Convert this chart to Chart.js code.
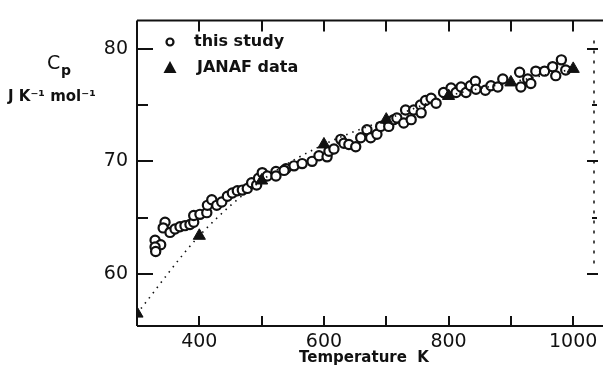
<!DOCTYPE html>
<html>
<head>
<meta charset="utf-8">
<script src="https://cdn.jsdelivr.net/npm/chart.js@4.4.0/dist/chart.umd.min.js"></script>
<style>
  html, body { margin: 0; padding: 0; background: #fff; }
  #wrap { width: 608px; height: 371px; }
</style>
</head>
<body>
<div id="wrap"><canvas id="myChart"></canvas></div>
<script>
// data
var studyT = [329, 338, 329, 330, 345, 342, 353, 361, 369, 377, 385, 391, 391, 401, 412, 413,
  420, 428, 436, 445, 453, 461, 469, 477, 484, 492, 495, 501, 509, 523, 523, 539,
  536, 552, 565, 581, 592, 605, 608, 616, 627, 632, 640, 651, 659, 669, 675, 685,
  691, 704, 712, 717, 728, 731, 740, 744, 755, 756, 763, 772, 780, 795,
  792, 804, 812, 820, 828, 835, 843, 844, 859, 868, 879, 887, 914, 916, 927, 932,
  940, 954, 967, 972, 981, 988];
var studyCp = [63.0, 62.6, 62.4, 62.0, 64.6, 64.1, 63.7, 64.0, 64.2, 64.3, 64.4, 64.6, 65.2, 65.3, 65.45, 66.1,
  66.6, 66.1, 66.4, 66.9, 67.2, 67.4, 67.45, 67.6, 68.1, 67.9, 68.5, 69.0, 68.7, 69.1, 68.7, 69.35,
  69.2, 69.6, 69.8, 70.0, 70.5, 70.4, 70.9, 71.1, 71.95, 71.6, 71.5, 71.3, 72.1, 72.8, 72.1, 72.4,
  73.1, 73.1, 73.7, 73.85, 73.4, 74.55, 73.7, 74.55, 75.0, 74.3, 75.4, 75.6, 75.15, 76.0,
  76.1, 76.5, 76.1, 76.6, 76.1, 76.7, 77.1, 76.4, 76.3, 76.7, 76.6, 77.3, 77.9, 76.6, 77.3, 76.9,
  78.0, 78.0, 78.4, 77.6, 79.0, 78.1];
var janafT = [300, 400, 500, 600, 700, 800, 900, 1000];
var janafCp = [56.5, 63.4, 68.3, 71.5, 73.7, 75.8, 77.0, 78.2];
var xTickLabels = [400, 600, 800, 1000];
var xTickMarks = [400, 500, 600, 700, 800, 900, 1000];
var yTickLabels = [60, 70, 80];
var yMinorMarks = [65, 75];
var seriesNames = ['this study', 'JANAF data'];

var ink = '#111';

function toPoints(xs, ys) {
  var pts = [];
  for (var i = 0; i < xs.length; i++) pts.push({x: xs[i], y: ys[i]});
  return pts;
}

function fixedTicks(values) {
  return function (scale) {
    scale.ticks = values.map(function (v) { return {value: v}; });
  };
}

// frame, inward ticks, legend and titles
var framePlugin = {
  id: 'frame',
  afterDraw: function (chart) {
    var ctx = chart.ctx;
    var a = chart.chartArea;
    var xs = chart.scales.x, ys = chart.scales.y;
    var i, px, py;
    ctx.save();
    ctx.strokeStyle = ink;
    ctx.lineWidth = 2;
    ctx.beginPath();
    ctx.moveTo(a.left, a.top); ctx.lineTo(a.right + 3, a.top);
    ctx.moveTo(a.left, a.top); ctx.lineTo(a.left, a.bottom);
    ctx.moveTo(a.left, a.bottom); ctx.lineTo(a.right + 3, a.bottom);
    for (i = 0; i < xTickMarks.length; i++) {
      px = Math.round(xs.getPixelForValue(xTickMarks[i]));
      ctx.moveTo(px, a.top); ctx.lineTo(px, a.top + 11);
      ctx.moveTo(px, a.bottom); ctx.lineTo(px, a.bottom - 10);
    }
    for (i = 0; i < yTickLabels.length; i++) {
      py = Math.round(ys.getPixelForValue(yTickLabels[i]));
      ctx.moveTo(a.left, py); ctx.lineTo(a.left + 16, py);
      ctx.moveTo(a.right - 13, py); ctx.lineTo(a.right - 2, py);
    }
    for (i = 0; i < yMinorMarks.length; i++) {
      py = Math.round(ys.getPixelForValue(yMinorMarks[i]));
      ctx.moveTo(a.left, py); ctx.lineTo(a.left + 11, py);
      ctx.moveTo(a.right - 8, py); ctx.lineTo(a.right - 3, py);
    }
    ctx.stroke();
    // broken right border
    ctx.lineWidth = 1.5;
    ctx.setLineDash([3, 7]);
    ctx.beginPath();
    ctx.moveTo(a.right - 6, a.top + 20); ctx.lineTo(a.right - 6, a.bottom - 60);
    ctx.stroke();
    ctx.setLineDash([]);

    // legend
    var lx = a.left + 33;
    ctx.fillStyle = '#fff';
    ctx.lineWidth = 2.2;
    ctx.beginPath();
    ctx.arc(lx, 42, 3.5, 0, Math.PI * 2);
    ctx.fill(); ctx.stroke();
    ctx.fillStyle = ink;
    ctx.beginPath();
    ctx.moveTo(lx, 61); ctx.lineTo(lx + 6.5, 73); ctx.lineTo(lx - 6.5, 73); ctx.closePath();
    ctx.fill();
    ctx.font = 'bold 16px "DejaVu Sans"';
    ctx.textBaseline = 'middle';
    ctx.textAlign = 'left';
    ctx.fillText(seriesNames[0], lx + 24, 42);
    ctx.fillText(seriesNames[1], lx + 27, 68);

    // y title
    ctx.font = '19px "DejaVu Sans"';
    ctx.fillText('C', 47, 64);
    ctx.font = 'bold 14px "DejaVu Sans"';
    ctx.fillText('p', 61, 71);
    ctx.font = 'bold 15px "DejaVu Sans"';
    ctx.fillText('J K\u207B\u00B9 mol\u207B\u00B9', 8, 97);

    // x title
    ctx.textAlign = 'center';
    ctx.font = 'bold 15px "DejaVu Sans"';
    ctx.fillText('Temperature  K', 364, 358);
    ctx.restore();
  }
};

var ctx = document.getElementById('myChart').getContext('2d');
var myChart = new Chart(ctx, {
  type: 'scatter',
  data: {
    datasets: [{
      type: 'line',
      label: seriesNames[1],
      data: toPoints(janafT, janafCp),
      showLine: true,
      borderColor: ink,
      borderWidth: 1.6,
      borderDash: [1.5, 5],
      cubicInterpolationMode: 'monotone',
      pointStyle: 'triangle',
      pointRadius: 7,
      pointBackgroundColor: ink,
      pointBorderColor: ink,
      pointBorderWidth: 1
    }, {
      label: seriesNames[0],
      data: toPoints(studyT, studyCp),
      pointRadius: 4.6,
      pointBorderWidth: 2.2,
      pointBackgroundColor: '#fff',
      pointBorderColor: ink
    }]
  },
  options: {
    responsive: true,
    maintainAspectRatio: false,
    animation: false,
    layout: {
      padding: { left: 0, right: 5, top: 13, bottom: 0 }
    },
    plugins: {
      legend: { display: false },
      tooltip: { enabled: false }
    },
    scales: {
      x: {
        type: 'linear',
        min: 300,
        max: 1043,
        grid: { display: false, drawTicks: false, tickLength: 0 },
        border: { display: false },
        afterBuildTicks: fixedTicks(xTickLabels),
        afterFit: function (s) { s.height = 45; },
        ticks: {
          padding: 5,
          maxRotation: 0,
          autoSkip: false,
          color: ink,
          font: { family: 'DejaVu Sans', size: 19 },
          callback: function (v) { return String(v); }
        }
      },
      y: {
        type: 'linear',
        min: 55.4,
        max: 82.5,
        grid: { display: false, drawTicks: false, tickLength: 0 },
        border: { display: false },
        afterBuildTicks: fixedTicks(yTickLabels),
        afterFit: function (s) { s.width = 137; },
        ticks: {
          padding: 9,
          autoSkip: false,
          color: ink,
          font: { family: 'DejaVu Sans', size: 19 },
          callback: function (v) { return String(v); }
        }
      }
    }
  },
  plugins: [framePlugin]
});
</script>
</body>
</html>
